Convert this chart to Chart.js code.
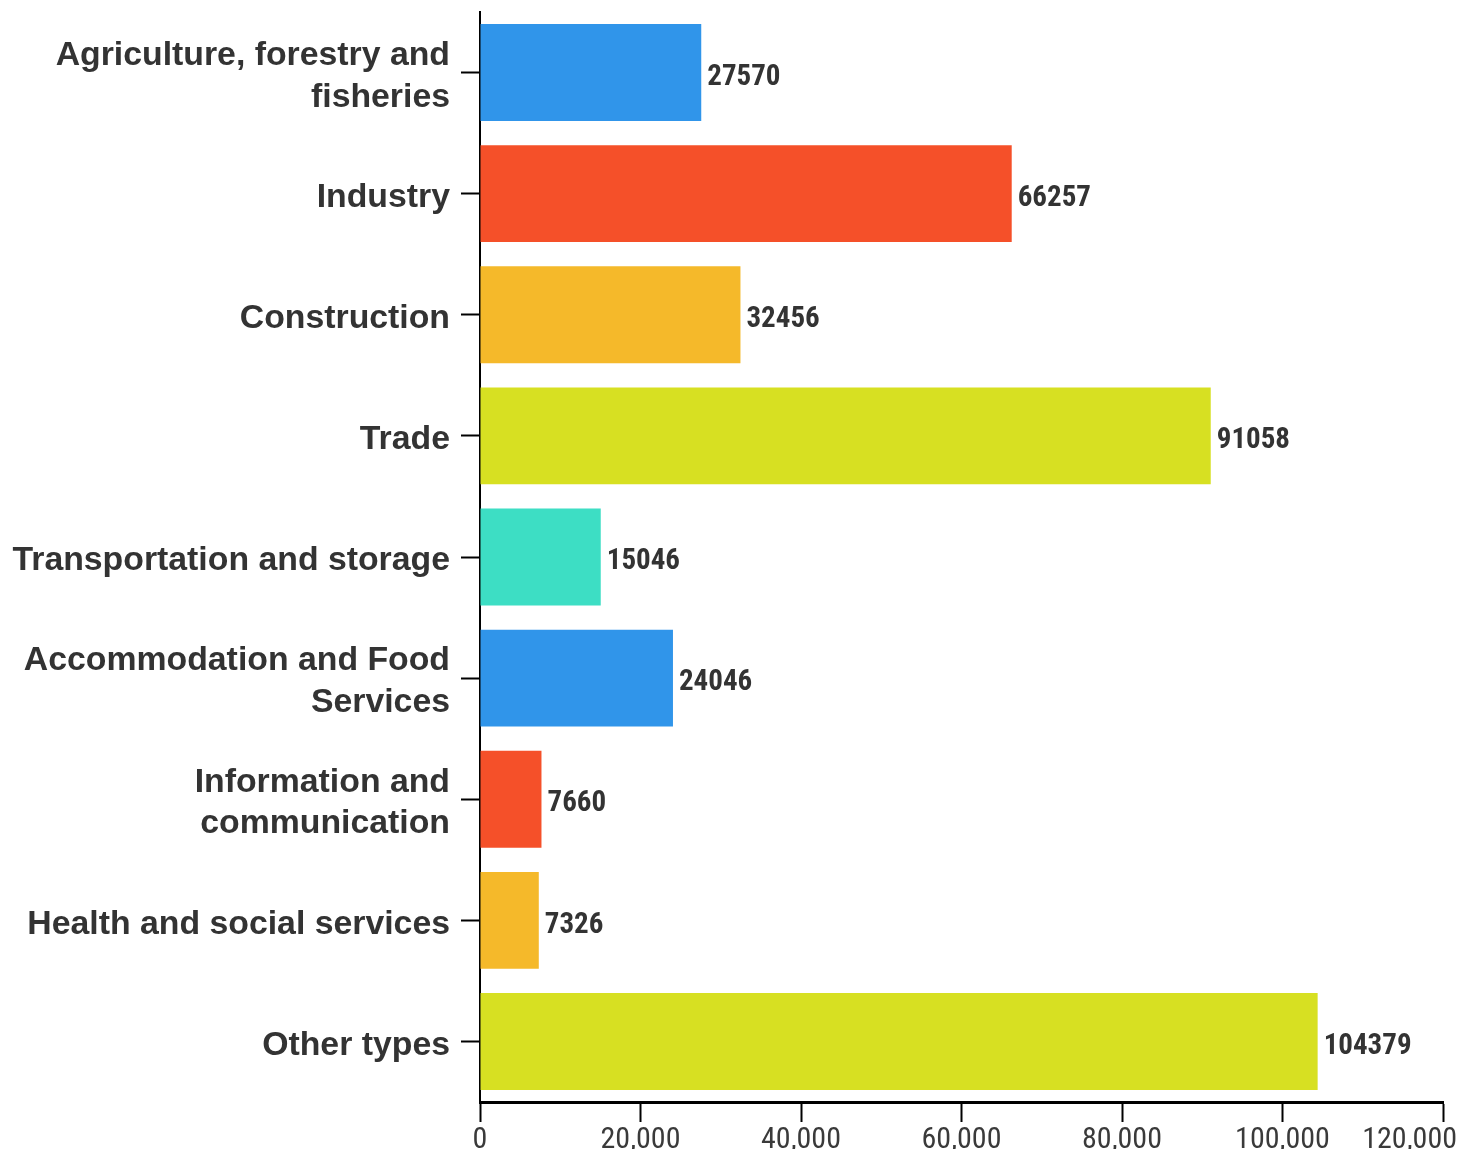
<!DOCTYPE html>
<html>
<head>
<meta charset="utf-8">
<script src="https://cdn.jsdelivr.net/npm/chart.js@4/dist/chart.umd.min.js"></script>
<style>
  html, body { margin: 0; padding: 0; background: #fff; }
  #wrap { width: 1468px; height: 1149px; position: relative; }
</style>
</head>
<body>
<div id="wrap"><canvas id="c" width="1468" height="1149"></canvas></div>
<script>
const categories = [
  ["Agriculture, forestry and", "fisheries"],
  "Industry",
  "Construction",
  "Trade",
  "Transportation and storage",
  ["Accommodation and Food", "Services"],
  ["Information and", "communication"],
  "Health and social services",
  "Other types"
];
const values = [27570, 66257, 32456, 91058, 15046, 24046, 7660, 7326, 104379];
const barColors = ["#3095EA", "#F55029", "#F5B92A", "#D7E022", "#3DDEC4", "#3095EA", "#F55029", "#F5B92A", "#D7E022"];
const xTicks = [0, 20000, 40000, 60000, 80000, 100000, 120000];

const condensed = "'Roboto Condensed', 'Liberation Sans Narrow', 'DejaVu Sans Condensed', sans-serif";

const valueLabels = {
  id: 'valueLabels',
  afterDatasetsDraw(chart) {
    const ctx = chart.ctx;
    const meta = chart.getDatasetMeta(0);
    ctx.save();
    ctx.font = "bold 29px " + condensed;
    ctx.fillStyle = "#333333";
    ctx.textAlign = "left";
    ctx.textBaseline = "middle";
    meta.data.forEach((el, i) => {
      ctx.fillText(String(values[i]), el.x + 6, el.y + 5);
    });
    ctx.restore();
  }
};

const xLabels = {
  id: 'xLabels',
  afterDraw(chart) {
    const ctx = chart.ctx;
    const sx = chart.scales.x;
    ctx.save();
    ctx.font = "30px " + condensed;
    ctx.fillStyle = "#3a3a3a";
    ctx.textAlign = "left";
    ctx.textBaseline = "alphabetic";
    const maxRight = chart.width - 11;
    xTicks.forEach(v => {
      const t = v.toLocaleString('en-US');
      const w = ctx.measureText(t).width;
      const px = sx.getPixelForValue(v);
      let x = px - w / 2;
      if (x + w > maxRight) x = maxRight - w;
      ctx.fillText(t, x, sx.bottom - 1);
    });
    ctx.restore();
  }
};

new Chart(document.getElementById('c'), {
  type: 'bar',
  data: {
    labels: categories,
    datasets: [{
      data: values,
      backgroundColor: barColors,
      borderWidth: 0,
      barPercentage: 0.8,
      categoryPercentage: 1.0
    }]
  },
  plugins: [valueLabels, xLabels],
  options: {
    indexAxis: 'y',
    responsive: false,
    animation: false,
    devicePixelRatio: 1,
    layout: { padding: { top: 12, right: 25, left: 0, bottom: 0 } },
    plugins: { legend: { display: false }, tooltip: { enabled: false } },
    scales: {
      x: {
        min: 0,
        max: 120000,
        afterBuildTicks(scale) { scale.ticks = xTicks.map(v => ({ value: v })); },
        afterFit(scale) { scale.height = 47; scale.paddingLeft = 0; scale.paddingRight = 0; },
        border: { display: true, color: '#000', width: 3 },
        grid: { drawOnChartArea: false, drawTicks: true, tickLength: 20, tickWidth: 2, color: '#000' },
        ticks: { display: false }
      },
      y: {
        afterFit(scale) { scale.width = 480; scale.paddingTop = 0; scale.paddingBottom = 0; },
        border: { display: true, color: '#000', width: 2 },
        grid: { offset: false, drawOnChartArea: false, drawTicks: true, tickLength: 19, tickWidth: 2, color: '#000' },
        ticks: {
          padding: 11,
          labelOffset: 4,
          color: '#333333',
          font: { family: "'Liberation Sans', Arial, sans-serif", size: 33.8, weight: 'bold', lineHeight: 1.24 }
        }
      }
    }
  }
});
</script>
</body>
</html>
